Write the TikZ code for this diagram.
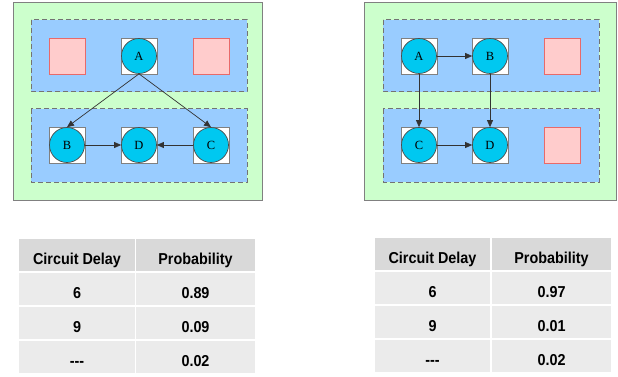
\documentclass[tikz,border=0pt]{standalone}
\usepackage{fontspec}
\setmainfont{Liberation Serif}
\newfontfamily\tabfont[FakeStretch=0.91]{Liberation Sans}
\usetikzlibrary{arrows.meta}
\definecolor{panelgreen}{HTML}{CCFFCC}
\definecolor{clusterblue}{HTML}{99CCFF}
\definecolor{vertcyan}{HTML}{00C8F0}
\definecolor{emptypink}{HTML}{FFCCCC}
\definecolor{emptyred}{HTML}{E86A6A}
\definecolor{headgray}{HTML}{D9D9D9}
\definecolor{cellgray}{HTML}{EBEBEB}
\tikzset{
  panel/.style={draw=black!50, line width=0.9pt, fill=panelgreen},
  cluster/.style={draw=black!55, line width=1pt, dash pattern=on 5pt off 3pt, fill=clusterblue},
  slot/.style={rectangle, draw=black!50, line width=0.7pt, fill=white, minimum size=36pt, inner sep=0pt},
  emptyslot/.style={rectangle, draw=emptyred, line width=0.8pt, fill=emptypink, minimum size=36pt, inner sep=0pt},
  vert/.style={circle, draw=black!70, line width=0.7pt, fill=vertcyan, minimum size=35pt, inner sep=0pt, font=\fontsize{12.5}{12.5}\selectfont},
  edge/.style={draw=black!80, line width=0.7pt, -{Triangle[length=7pt,width=6pt]}},
  tabtext/.style={rectangle, inner sep=0pt, text height=19pt, text depth=0pt, font=\tabfont\bfseries\fontsize{15.8}{17}\selectfont},
  headcell/.style={tabtext, fill=headgray},
  bodycell/.style={tabtext, fill=cellgray},
}
\begin{document}
\begin{tikzpicture}[x=1pt, y=-1pt]
\useasboundingbox[fill=white] (0,0) rectangle (618,377);

% ---------- left placement ----------
\path[panel] (13,2) rectangle (262,200);
\path[cluster] (31,20) rectangle (247,92);
\path[cluster] (31,109) rectangle (247,182);

\node[emptyslot] (LE1) at (67,56) {};
\node[emptyslot] (LE2) at (211,56) {};
\node[slot] (LAs) at (139,56) {};
\node[slot] (LBs) at (67,145) {};
\node[slot] (LDs) at (139,145) {};
\node[slot] (LCs) at (211,145) {};
\node[vert] (LA) at (139,56) {A};
\node[vert] (LB) at (67,145) {B};
\node[vert] (LD) at (139,145) {D};
\node[vert] (LC) at (211,145) {C};

\draw[edge] (LA.south) -- (LB.north);
\draw[edge] (LA.south) -- (LC.north);
\draw[edge] (LB.east) -- (LD.west);
\draw[edge] (LC.west) -- (LD.east);

% ---------- right placement ----------
\path[panel] (364,2) rectangle (616,200);
\path[cluster] (383,20) rectangle (599,92);
\path[cluster] (383,109) rectangle (599,182);

\node[emptyslot] (RE1) at (562,56) {};
\node[emptyslot] (RE2) at (562,145) {};
\node[slot] (RAs) at (419,56) {};
\node[slot] (RBs) at (490,56) {};
\node[slot] (RCs) at (419,145) {};
\node[slot] (RDs) at (490,145) {};
\node[vert] (RA) at (419,56) {A};
\node[vert] (RB) at (490,56) {B};
\node[vert] (RC) at (419,145) {C};
\node[vert] (RD) at (490,145) {D};

\draw[edge] (RA.east) -- (RB.west);
\draw[edge] (RA.south) -- (RC.north);
\draw[edge] (RB.south) -- (RD.north);
\draw[edge] (RC.east) -- (RD.west);

% ---------- left table ----------
\node[headcell, minimum width=116pt, minimum height=32pt] (LT11) at (77,255) {Circuit Delay};
\node[headcell, minimum width=119pt, minimum height=32pt] (LT12) at (195.5,255) {Probability};
\node[bodycell, minimum width=116pt, minimum height=32pt] (LT21) at (77,289) {6};
\node[bodycell, minimum width=119pt, minimum height=32pt] (LT22) at (195.5,289) {0.89};
\node[bodycell, minimum width=116pt, minimum height=32pt] (LT31) at (77,323) {9};
\node[bodycell, minimum width=119pt, minimum height=32pt] (LT32) at (195.5,323) {0.09};
\node[bodycell, minimum width=116pt, minimum height=32pt] (LT41) at (77,357) {-{}-{}-};
\node[bodycell, minimum width=119pt, minimum height=32pt] (LT42) at (195.5,357) {0.02};

% ---------- right table ----------
\node[headcell, minimum width=115pt, minimum height=32pt] (RT11) at (432.5,254) {Circuit Delay};
\node[headcell, minimum width=119pt, minimum height=32pt] (RT12) at (551.5,254) {Probability};
\node[bodycell, minimum width=115pt, minimum height=32pt] (RT21) at (432.5,288) {6};
\node[bodycell, minimum width=119pt, minimum height=32pt] (RT22) at (551.5,288) {0.97};
\node[bodycell, minimum width=115pt, minimum height=32pt] (RT31) at (432.5,322) {9};
\node[bodycell, minimum width=119pt, minimum height=32pt] (RT32) at (551.5,322) {0.01};
\node[bodycell, minimum width=115pt, minimum height=32pt] (RT41) at (432.5,356) {-{}-{}-};
\node[bodycell, minimum width=119pt, minimum height=32pt] (RT42) at (551.5,356) {0.02};
\end{tikzpicture}
\end{document}
